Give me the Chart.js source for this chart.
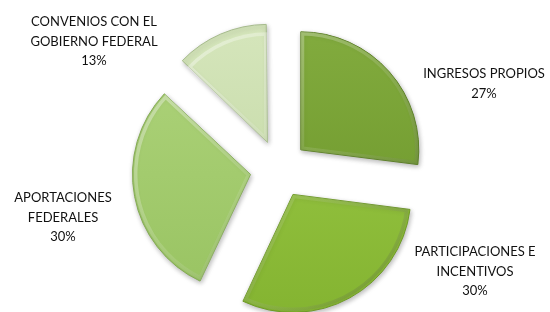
<!DOCTYPE html>
<html>
<head>
<meta charset="utf-8">
<script src="https://cdn.jsdelivr.net/npm/chart.js@4.4.0/dist/chart.umd.min.js"></script>
<style>
  html, body { margin: 0; padding: 0; background: #ffffff; }
  #wrap { width: 550px; height: 312px; position: relative; }
</style>
</head>
<body>
<div id="wrap"><canvas id="c" width="550" height="312"></canvas></div>
<script>
// Data
const categories = ["INGRESOS PROPIOS", "PARTICIPACIONES E INCENTIVOS", "APORTACIONES FEDERALES", "CONVENIOS CON EL GOBIERNO FEDERAL"];
const values = [27, 30, 30, 13];
const labelLines = [
  ["INGRESOS PROPIOS", "27%"],
  ["PARTICIPACIONES E", "INCENTIVOS", "30%"],
  ["APORTACIONES", "FEDERALES", "30%"],
  ["CONVENIOS CON EL", "GOBIERNO FEDERAL", "13%"]
];

// Styles
const topColors = ["#84ad40", "#9cca48", "#afd47c", "#d7e7be"];
const botColors = ["#6a9428", "#82b22f", "#97c260", "#c0d6a0"];
const borderColors = ["#5a7f22", "#6f9a28", "#84aa55", "#a6bb8c"];
const labelAnchors = [[484, 74], [475, 252], [63, 198], [94, 22]];
const OFFSET = 116;

// Keep every exploded slice at the same radius (Chart.js enlarges narrow offset slices)
const equalRadiusPlugin = {
  id: 'equalRadius',
  afterDatasetUpdate(chart, args) {
    const base = chart.options.radius;
    args.meta.data.forEach(arc => {
      const circ = arc.endAngle - arc.startAngle;
      const fix = 1 - Math.sin(Math.min(Math.PI, circ));
      arc.outerRadius = base - (OFFSET / 4) * fix;
    });
  }
};

// Soft shadow under slices
const shadowPlugin = {
  id: 'softShadow',
  beforeDatasetsDraw(chart) {
    const ctx = chart.ctx;
    ctx.save();
    ctx.shadowColor = 'rgba(0,0,0,0.28)';
    ctx.shadowBlur = 5;
    ctx.shadowOffsetX = 1;
    ctx.shadowOffsetY = 2;
  },
  afterDatasetsDraw(chart) {
    const ctx = chart.ctx;
    ctx.restore();
    // bevel rim
    const meta = chart.getDatasetMeta(0);
    meta.data.forEach(arc => {
      const half = (arc.startAngle + arc.endAngle) / 2;
      const d = OFFSET / 4;
      const cx = arc.x + Math.cos(half) * d;
      const cy = arc.y + Math.sin(half) * d;
      const r = arc.outerRadius;
      ctx.save();
      ctx.beginPath();
      ctx.moveTo(cx, cy);
      ctx.arc(cx, cy, r, arc.startAngle, arc.endAngle);
      ctx.closePath();
      ctx.clip();
      const g = ctx.createLinearGradient(cx - r, cy - r, cx + r, cy + r);
      g.addColorStop(0, 'rgba(255,255,255,0.45)');
      g.addColorStop(0.5, 'rgba(255,255,255,0.12)');
      g.addColorStop(1, 'rgba(0,0,0,0.22)');
      ctx.strokeStyle = g;
      ctx.lineWidth = 7;
      ctx.lineJoin = 'round';
      ctx.stroke();
      ctx.restore();
    });
  }
};

const labelPlugin = {
  id: 'outerLabels',
  afterDraw(chart) {
    const ctx = chart.ctx;
    ctx.save();
    ctx.font = '13px Lato, "Open Sans", sans-serif';
    ctx.fillStyle = '#111111';
    ctx.textAlign = 'center';
    ctx.textBaseline = 'middle';
    labelLines.forEach((lines, i) => {
      const [x, y] = labelAnchors[i];
      lines.forEach((t, j) => ctx.fillText(t, x, y + j * 19.5));
    });
    ctx.restore();
  }
};

new Chart(document.getElementById('c'), {
  type: 'pie',
  data: {
    labels: categories,
    datasets: [{
      data: values,
      backgroundColor(context) {
        const chart = context.chart;
        const area = chart.chartArea;
        if (!area) return topColors[context.dataIndex];
        const g = chart.ctx.createLinearGradient(0, area.top, 0, area.bottom);
        g.addColorStop(0, topColors[context.dataIndex]);
        g.addColorStop(1, botColors[context.dataIndex]);
        return g;
      },
      borderColor: borderColors,
      borderWidth: 1,
      offset: OFFSET,
      hoverOffset: 0
    }]
  },
  options: {
    responsive: false,
    animation: false,
    radius: 118,
    layout: { padding: { left: 8, right: 0, top: 26, bottom: 0 } },
    plugins: {
      legend: { display: false },
      tooltip: { enabled: false }
    }
  },
  plugins: [equalRadiusPlugin, shadowPlugin, labelPlugin]
});
</script>
</body>
</html>
